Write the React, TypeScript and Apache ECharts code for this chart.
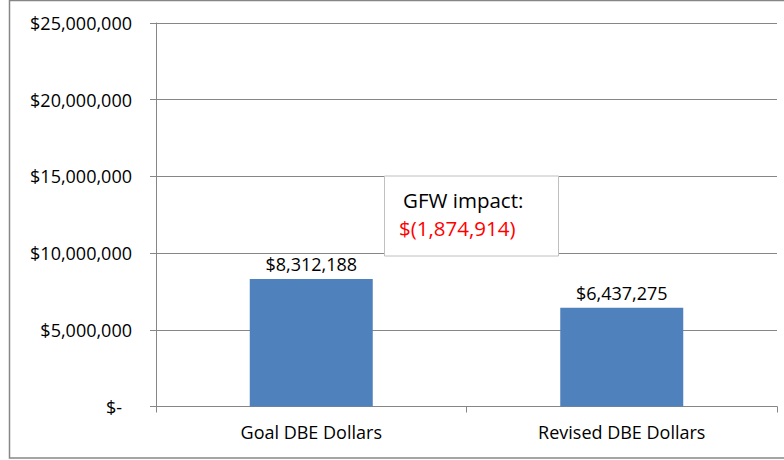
import React, { useEffect, useRef } from "react";
import * as echarts from "echarts";

const categories = ["Goal DBE Dollars", "Revised DBE Dollars"];
const values = [8312188, 6437275];
const yTicks = [0, 5000000, 10000000, 15000000, 20000000, 25000000];
const boxTitle = "GFW impact:";
const boxValue = "$(1,874,914)";

const FONT = "'Open Sans', sans-serif";

function fmt(v: number): string {
  return "$" + v.toLocaleString("en-US");
}

export default function App() {
  const ref = useRef<HTMLDivElement>(null);
  useEffect(() => {
    document.body.style.margin = "0";
    if (!ref.current) return;
    const chart = echarts.init(ref.current, undefined, { renderer: "svg" });
    chart.setOption({
      animation: false,
      backgroundColor: "#ffffff",
      grid: { left: 156, right: 7, top: 23, bottom: 53.5, containLabel: false },
      xAxis: {
        type: "category",
        data: categories,
        boundaryGap: true,
        axisLine: { lineStyle: { color: "#868686", width: 1 } },
        axisTick: { show: true, length: 6, lineStyle: { color: "#868686" } },
        axisLabel: { color: "#000", fontFamily: FONT, fontSize: 18, margin: 16 },
      },
      yAxis: {
        type: "value",
        min: yTicks[0],
        max: yTicks[yTicks.length - 1],
        interval: yTicks[1] - yTicks[0],
        axisLine: { show: true, lineStyle: { color: "#868686", width: 1 } },
        axisTick: { show: true, length: 6, lineStyle: { color: "#868686" } },
        splitLine: { show: true, lineStyle: { color: "#868686", width: 1 } },
        axisLabel: {
          color: "#000",
          fontFamily: FONT,
          fontSize: 18,
          margin: 24,
          formatter: (v: number) => (v === 0 ? "{z|$-}" : fmt(v)),
          rich: { z: { color: "#000", fontFamily: FONT, fontSize: 18, padding: [0, 10, 0, 0] } },
        },
      },
      series: [
        {
          type: "bar",
          data: values,
          barWidth: 123,
          itemStyle: { color: "#4f81bd" },
          label: {
            show: true,
            position: "top",
            distance: 6,
            color: "#000",
            fontFamily: FONT,
            fontSize: 18,
            formatter: (p: any) => fmt(p.value),
          },
        },
      ],
      graphic: [
        {
          type: "rect",
          shape: { x: 9.5, y: 0.5, width: 800, height: 457.5 },
          style: { fill: "none", stroke: "#868686", lineWidth: 1.5 },
          silent: true,
        },
        {
          type: "rect",
          shape: { x: 384.5, y: 176, width: 174, height: 80 },
          style: { fill: "#ffffff", stroke: "#c0c0c0", lineWidth: 1 },
          z: 100,
        },
        {
          type: "text",
          x: 403,
          y: 200,
          z: 101,
          style: { text: boxTitle, fill: "#000", font: `20.5px ${FONT}`, textVerticalAlign: "middle" },
        },
        {
          type: "text",
          x: 399,
          y: 228,
          z: 101,
          style: { text: boxValue, fill: "#ff0000", font: `20.5px ${FONT}`, textVerticalAlign: "middle" },
        },
      ],
    });
    return () => chart.dispose();
  }, []);
  return <div ref={ref} style={{ width: 784, height: 460 }} />;
}
